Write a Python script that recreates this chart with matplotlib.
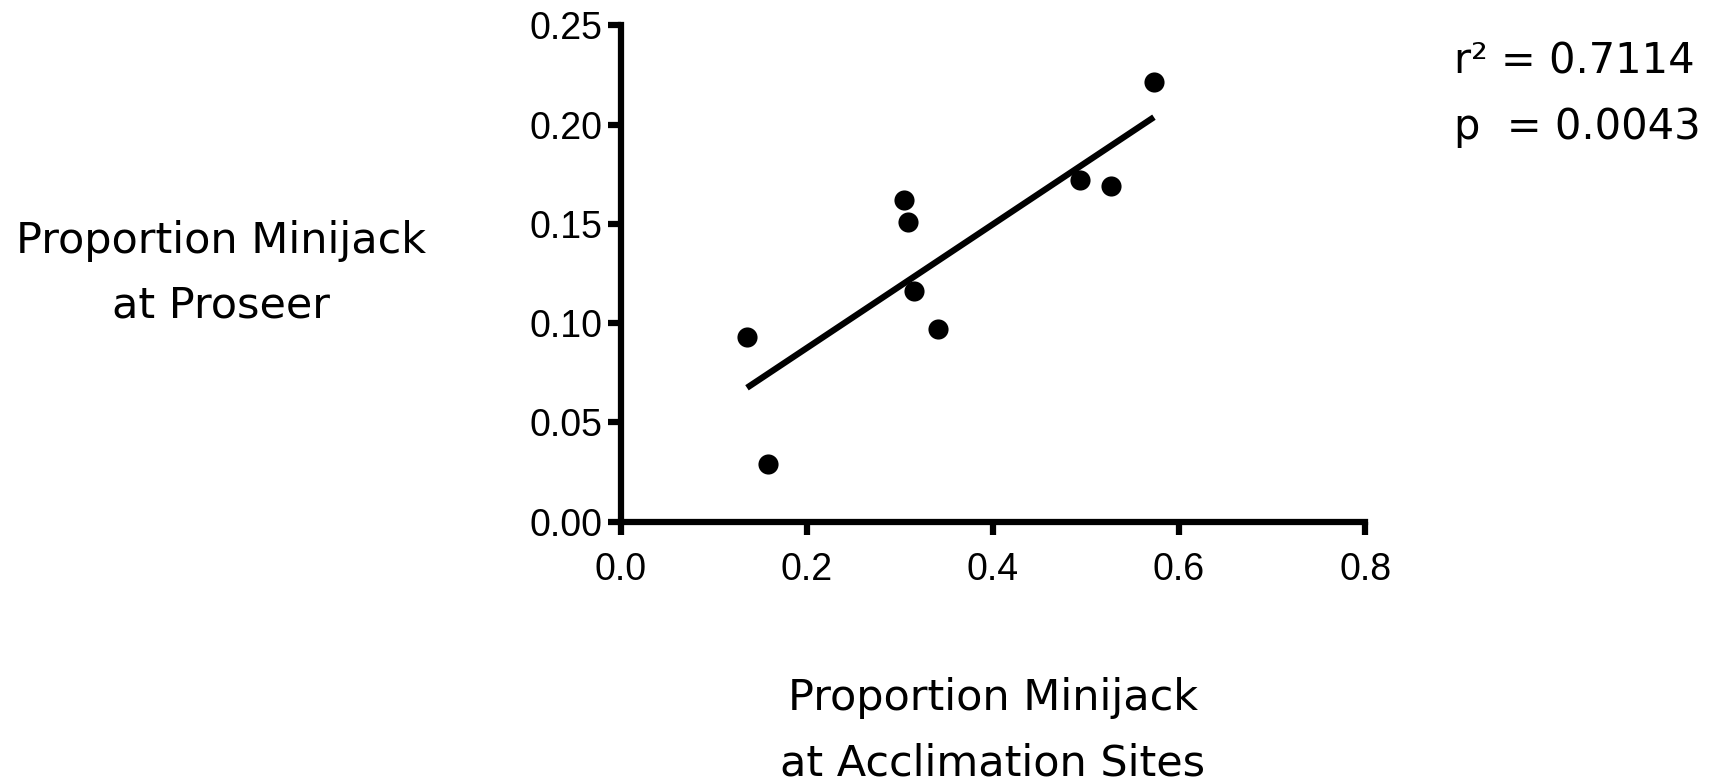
import numpy as np
import matplotlib
matplotlib.use("Agg")
import matplotlib.pyplot as plt

acclimation = [0.1355, 0.158, 0.304, 0.309, 0.315, 0.341, 0.494, 0.527, 0.573]
proseer = [0.093, 0.029, 0.162, 0.151, 0.116, 0.097, 0.172, 0.169, 0.2216]
x_ticks = [0.0, 0.2, 0.4, 0.6, 0.8]
y_ticks = [0.00, 0.05, 0.10, 0.15, 0.20, 0.25]
stats_lines = ["r\u00b2 = 0.7114", "p  = 0.0043"]
x_label = ["Proportion Minijack", "at Acclimation Sites"]
y_label = ["Proportion Minijack", "at Proseer"]

W, H = 1733, 782
fig = plt.figure(figsize=(W / 100, H / 100), dpi=100)
ax = fig.add_axes([0.3583, 0.3329, 0.7877 - 0.3583, 0.9675 - 0.3329])

xs = np.array(acclimation)
ys = np.array(proseer)
slope, intercept = np.polyfit(xs, ys, 1)
lx = np.array([xs.min(), xs.max()])
ax.plot(lx, slope * lx + intercept, color="black", lw=4.5, solid_capstyle="butt", zorder=2)
ax.scatter(xs, ys, s=210, color="black", zorder=3, linewidths=0, clip_on=False)

ax.set_xlim(0, 0.8)
ax.set_ylim(0, 0.25)
ax.set_xticks(x_ticks)
ax.set_yticks(y_ticks)
ax.set_xticklabels([f"{v:.1f}" for v in x_ticks])
ax.set_yticklabels([f"{v:.2f}" for v in y_ticks])
for s in ["top", "right"]:
    ax.spines[s].set_visible(False)
for s in ["left", "bottom"]:
    ax.spines[s].set_linewidth(4.5)
    ax.spines[s].set_capstyle("projecting")
ax.tick_params(axis="both", direction="out", length=9.5, width=4.5)
ax.tick_params(axis="x", pad=12, labelsize=27)
ax.tick_params(axis="y", pad=4, labelsize=27)
for lab in ax.get_xticklabels() + ax.get_yticklabels():
    lab.set_fontfamily("Liberation Sans")

def put_lines(lines, cx, ys_px, size, ha="center"):
    for line, yp in zip(lines, ys_px):
        fig.text(cx / W, 1 - yp / H, line, ha=ha, va="center",
                 fontsize=size, family="DejaVu Sans")

put_lines(y_label, 221, [241, 306], 31)
put_lines(x_label, 993, [698, 763], 31)
put_lines(stats_lines, 1454, [61, 127], 30, ha="left")

fig.savefig("out.png", dpi=100, facecolor="white")
